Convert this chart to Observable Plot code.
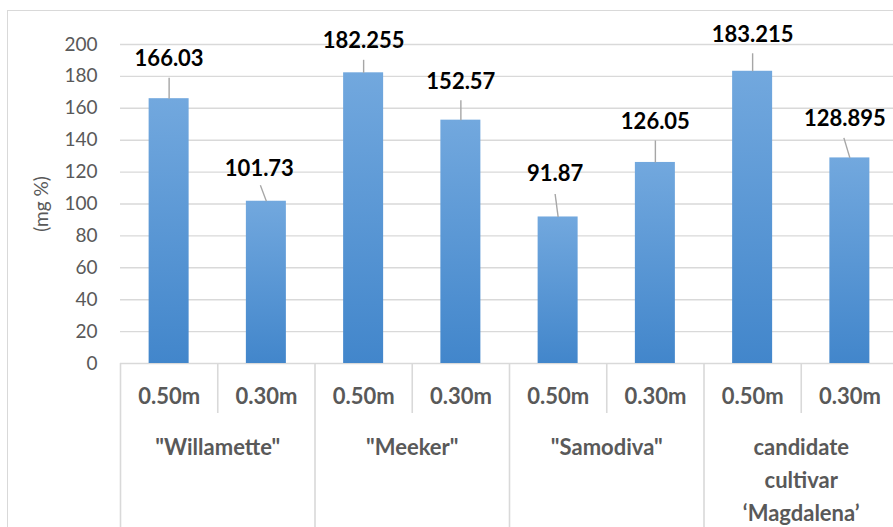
<!DOCTYPE html>
<html>
<head>
<meta charset="utf-8">
<script src="https://cdn.jsdelivr.net/npm/d3@7"></script>
<script src="https://cdn.jsdelivr.net/npm/@observablehq/plot@0.6"></script>
<style>
  body { margin: 0; background: #fff; }
  #chart { position: relative; width: 893px; height: 527px; overflow: hidden; font-family: Lato, "Open Sans", sans-serif; }
  #chart svg { position: absolute; left: 0; top: 0; }
  #chart .edge { position: absolute; left: 7px; top: 10px; right: -10px; bottom: -10px;
    border-left: 1.5px solid #d9d9d9; border-top: 1.5px solid #d9d9d9; pointer-events: none; }
</style>
</head>
<body>
<div id="chart"></div>
<script>
// Cultivars (outer axis level) and planting distances (inner axis level)
const cultivars = ["\"Willamette\"", "\"Meeker\"", "\"Samodiva\"", "candidate\ncultivar\n\u2018Magdalena\u2019"];
const spacings = ["0.50m", "0.30m"];
// Content in mg %, one value per cultivar × spacing, in axis order
const values = [166.03, 101.73, 182.255, 152.57, 91.87, 126.05, 183.215, 128.895];
const yTicks = [0, 20, 40, 60, 80, 100, 120, 140, 160, 180, 200];
const yTitle = "(mg %)";

// Value-label placement, in pixels relative to the top centre of each bar:
// [label dx, label dy, leader start dx, leader end dx, leader end dy]
const labelLayout = [
  [0, -40, 0, 0, -21],
  [-7, -32, 0, -6, -16],
  [0, -32, 0, 0, -13],
  [0, -38, 0, 0, -20],
  [-3, -43, 0, -3, -23],
  [0, -40, 0, 0, -22],
  [0, -36, 0, 0, -18],
  [-5, -39, 0, -6, -20]
];

// Frame geometry
const W = 893, H = 527;
const frameLeft = 120, frameRight = 898, frameTop = 44, frameBase = 363;
const n = cultivars.length * spacings.length;
const yMax = yTicks[yTicks.length - 1];
const kx = (frameRight - frameLeft) / n;      // px per slot
const ky = (frameBase - frameTop) / yMax;     // px per mg %
const barInset = (kx - 40) / 2;

const rows = values.map((value, i) => ({
  i,
  value,
  cultivar: cultivars[Math.floor(i / spacings.length)],
  spacing: spacings[i % spacings.length],
  lx: i + 0.5 + labelLayout[i][0] / kx,
  ly: value - labelLayout[i][1] / ky,
  ax: i + 0.5 + labelLayout[i][2] / kx,
  bx: i + 0.5 + labelLayout[i][3] / kx,
  by: value - labelLayout[i][4] / ky
}));
const groups = cultivars.map((name, g) => ({name, mid: g * spacings.length + spacings.length / 2}));
const groupEdges = d3.range(0, n, spacings.length);
const innerEdges = d3.range(0, n).filter(k => k % spacings.length !== 0);

const font = "Lato, 'Open Sans', sans-serif";

const svg = Plot.plot({
  width: W,
  height: H,
  marginLeft: frameLeft,
  marginRight: 0,
  marginTop: frameTop,
  marginBottom: 0,
  style: {fontFamily: font, background: "transparent", overflow: "visible"},
  x: {type: "linear", domain: [0, n], range: [frameLeft, frameRight], axis: null},
  y: {domain: [0, yMax], range: [frameBase, frameTop], axis: null},
  marks: [
    Plot.ruleY(yTicks, {stroke: "#d9d9d9", strokeWidth: 1.4}),
    Plot.axisY(yTicks, {
      tickSize: 0, tickPadding: 23, fontSize: 19, color: "#595959", label: null
    }),
    // vertical axis title, centred on the value range
    Plot.text([yTitle], {
      frameAnchor: "left", y: () => yMax / 2, text: d => d, rotate: -90,
      textAnchor: "middle", lineAnchor: "middle",
      dx: -79, fontSize: 19, fill: "#595959", fontFamily: font
    }),
    Plot.rectY(rows, {
      x1: "i", x2: d => d.i + 1, y: "value",
      insetLeft: barInset, insetRight: barInset, fill: "url(#barFill)"
    }),
    // category separators below the baseline
    Plot.ruleX(groupEdges, {stroke: "#d9d9d9", strokeWidth: 1.6, insetTop: frameBase - frameTop}),
    Plot.ruleX(innerEdges, {stroke: "#d9d9d9", strokeWidth: 1.6, insetTop: frameBase - frameTop, insetBottom: H - 413}),
    Plot.text(rows, {
      x: d => d.i + 0.5, y: 0, text: "spacing", dy: 33,
      fontSize: 22, fontWeight: "bold", fill: "#595959", fontFamily: font
    }),
    Plot.text(groups, {
      x: "mid", y: 0, text: "name", dy: 68, lineAnchor: "top", lineHeight: 1.5,
      fontSize: 22, fontWeight: "bold", fill: "#595959", fontFamily: font
    }),
    // value labels with leader lines
    Plot.link(rows, {x1: "ax", y1: "value", x2: "bx", y2: "by", stroke: "#a6a6a6", strokeWidth: 1.4}),
    Plot.text(rows, {
      x: "lx", y: "ly", text: d => String(d.value),
      fontSize: 22, fontWeight: "bold", fill: "#000", fontFamily: font
    })
  ]
});

const root = d3.select(svg);
const grad = root.insert("defs", ":first-child")
  .append("linearGradient")
  .attr("id", "barFill")
  .attr("x1", 0).attr("y1", 0).attr("x2", 0).attr("y2", 1);
grad.append("stop").attr("offset", "0%").attr("stop-color", "#72a8de");
grad.append("stop").attr("offset", "100%").attr("stop-color", "#4286cb");
root.selectAll("rect[fill='url(#barFill)']")
  .style("filter", "drop-shadow(1px 1px 2.5px rgba(0,0,0,0.35))");

const chart = document.getElementById("chart");
chart.appendChild(svg);
const edge = document.createElement("div");
edge.className = "edge";
chart.appendChild(edge);
</script>
</body>
</html>
